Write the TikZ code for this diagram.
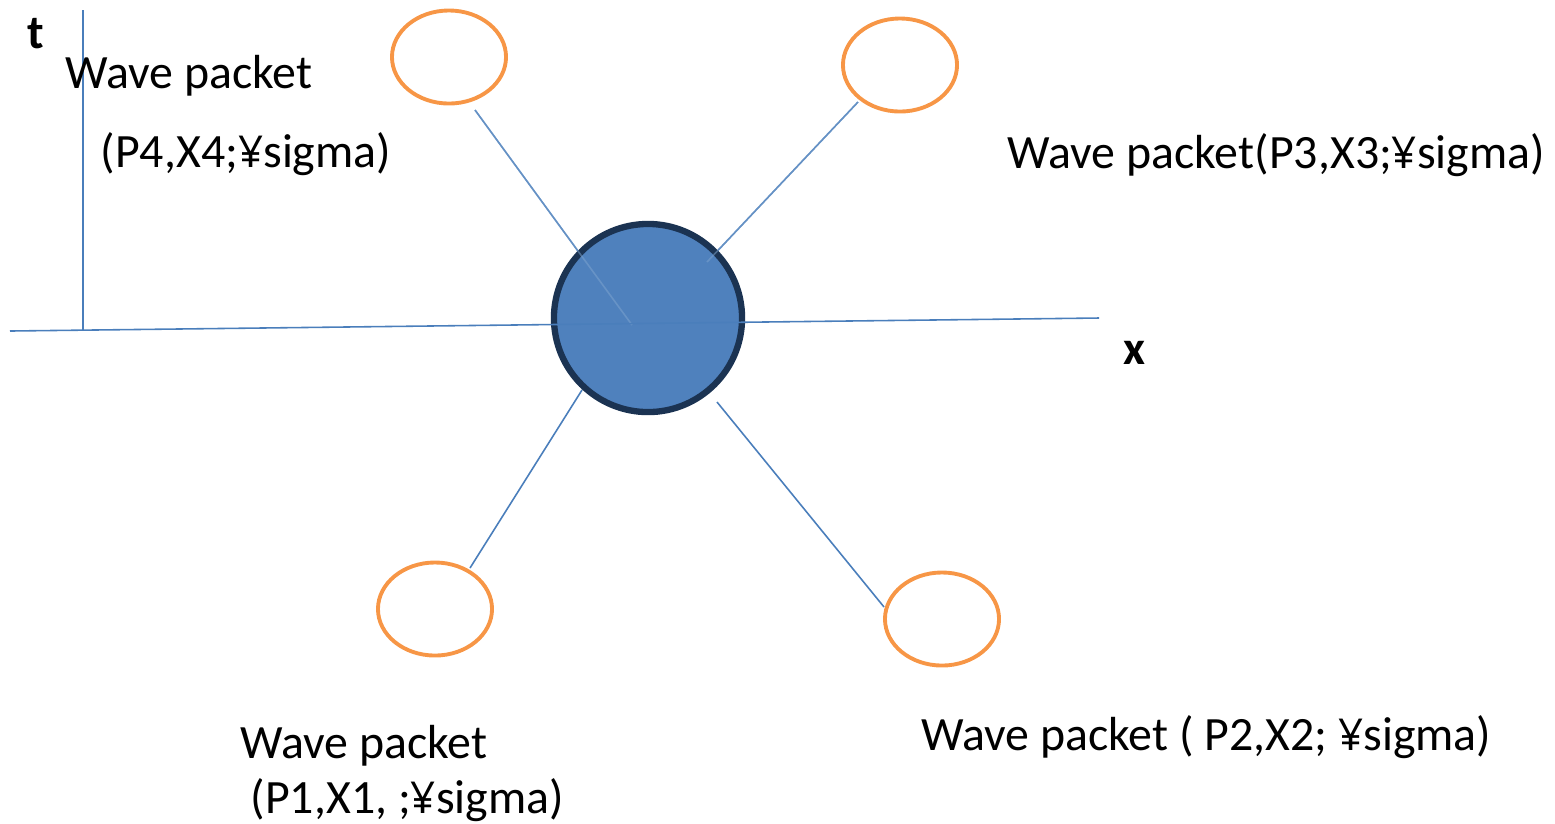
\documentclass[tikz,border=0pt]{standalone}
\usepackage{fontspec}
\setmainfont{Carlito}
\newfontfamily\yenfont[Scale=0.92]{Open Sans}
\newcommand{\yensign}{{\yenfont ¥}}
\usetikzlibrary{shapes.geometric}
\definecolor{axisblue}{HTML}{4A7EBB}
\definecolor{ballfill}{HTML}{4F81BD}
\definecolor{balledge}{HTML}{1B3352}
\definecolor{packetorange}{HTML}{F79646}
\tikzset{
  axisline/.style={draw=axisblue, line width=0.45pt},
  leg/.style={draw=axisblue, line width=0.45pt},
  faintleg/.style={draw=axisblue!70!white, line width=0.45pt, opacity=0.5},
  ball/.style={circle, fill=ballfill, draw=balledge,
    line width=1.8pt, minimum size=1.88cm, inner sep=0pt},
  packet/.style={ellipse, draw=packetorange, line width=1.1pt, minimum width=1.14cm,
    minimum height=0.93cm, inner sep=0pt},
  lbl/.style={font=\fontsize{13.6}{16}\selectfont, anchor=base west, inner sep=0pt},
  axlbl/.style={font=\fontsize{13.6}{16}\selectfont\bfseries, anchor=base west, inner sep=0pt}
}
\begin{document}
\begin{tikzpicture}[x=0.01cm, y=-0.01cm]
\useasboundingbox (0,0) rectangle (1555,823);
% axes
\coordinate (tTop) at (83,10);
\coordinate (tFoot) at (83,330);
\coordinate (xLeft) at (10,331);
\coordinate (xRight) at (1099,318);
\draw[axisline] (tTop) -- (tFoot);
\node[axlbl] (tlab) at (27,48) {t};
\node[axlbl] (xlab) at (1123,364) {x};
% wave packets
\node[packet] (e4) at (449,57) {};
\node[packet] (e3) at (900,65) {};
\node[packet] (e1) at (435,609) {};
\node[packet] (e2) at (942,619) {};
% legs to the interaction vertex
\coordinate (l4a) at (475,110);
\coordinate (l4b) at (632,325);
\coordinate (l3a) at (858,102);
\coordinate (l3b) at (707,262);
\coordinate (l1a) at (470,568);
\coordinate (l1b) at (582,390);
\coordinate (l2a) at (717,402);
\coordinate (l2b) at (884,607);
\draw[leg] (l4a) -- (l4b);
\draw[leg] (l3a) -- (l3b);
\draw[leg] (l1a) -- (l1b);
\draw[leg] (l2a) -- (l2b);
% interaction vertex, with the lines behind it showing through faintly
\node[ball] (c) at (648,318) {};
\draw[faintleg] (l4a) -- (l4b);
\draw[faintleg] (l3a) -- (l3b);
\draw[axisline] (xLeft) -- (xRight);
% labels
\node[lbl] (w4a) at (65,88) {Wave packet};
\node[lbl] (w4b) at (100,167) {(P4,X4;\yensign sigma)};
\node[lbl] (w3) at (1007,168) {Wave packet(P3,X3;\yensign sigma)};
\node[lbl] (w1a) at (240,758) {Wave packet};
\node[lbl] (w1b) at (250,813) {(P1,X1, ;\yensign sigma)};
\node[lbl] (w2) at (921,750) {Wave packet ( P2,X2; \yensign sigma)};
\end{tikzpicture}
\end{document}
